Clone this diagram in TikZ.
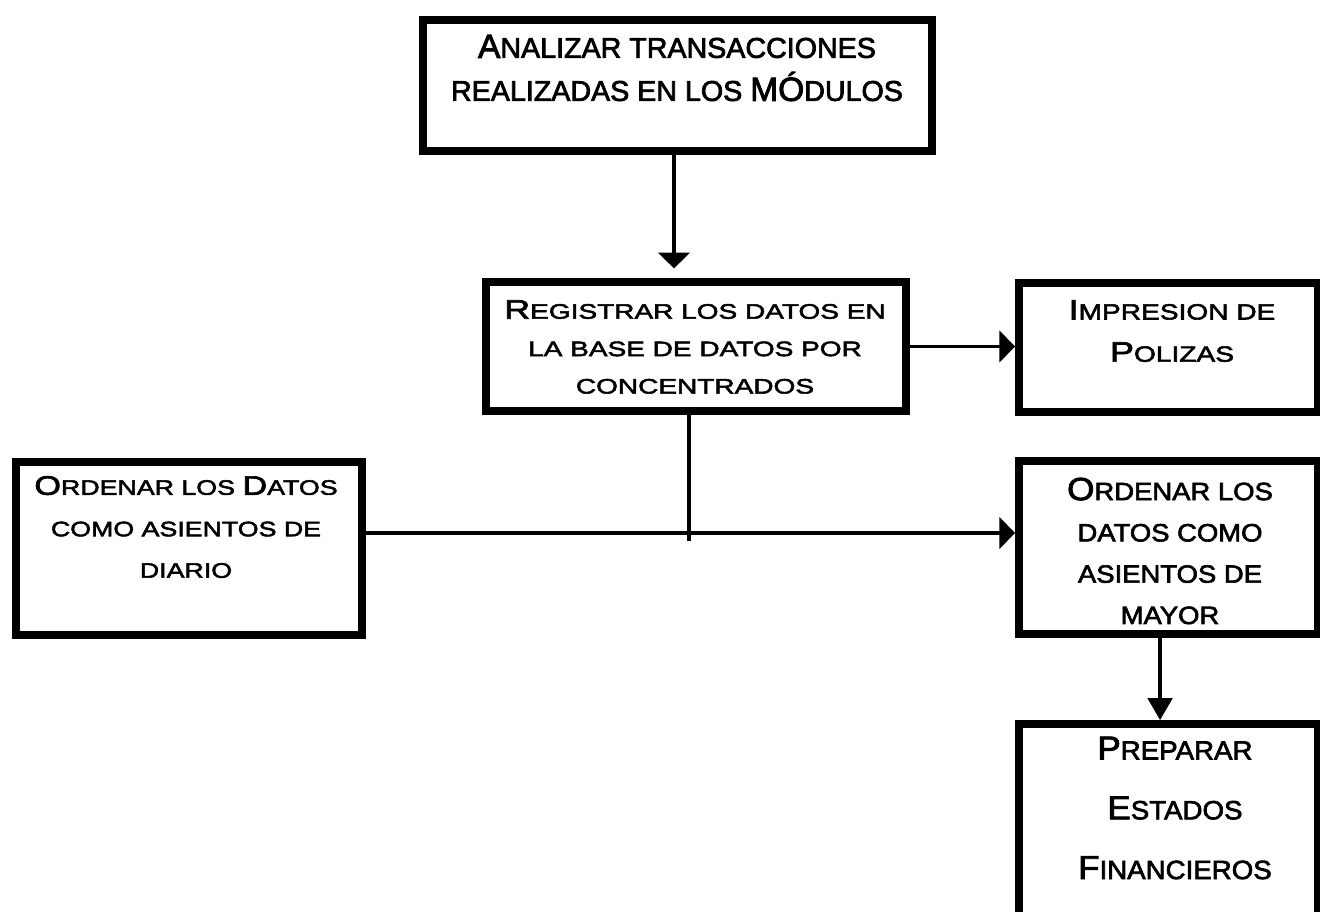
\documentclass[tikz,border=0pt]{standalone}
\usepackage{fontspec}
\setmainfont{Liberation Sans}[FakeBold=2.5]
\newfontfamily\wideD{Liberation Sans}[FakeStretch=1.34, FakeBold=2.5]
\newfontfamily\wideC{Liberation Sans}[FakeStretch=1.28, FakeBold=2.5]
\newfontfamily\wideB{Liberation Sans}[FakeStretch=1.1, FakeBold=2.5]
\newfontfamily\wideA{Liberation Sans}[FakeStretch=1.05, FakeBold=2.5]
\usepackage{graphicx}
\usetikzlibrary{arrows.meta}
\newcommand\bg[2][1.28]{\scalebox{#1}{#2}}

\begin{document}
\begin{tikzpicture}[x=0.02cm, y=-0.02cm,
        box/.style={draw, line width=4.5pt, inner sep=0pt},
        txt/.style={align=center, inner sep=0pt},
        con/.style={line width=1.8pt},
        arr/.style={con, -{Triangle[length=9pt,width=18pt]}}]
        \clip (0,0) rectangle (1320,912);
        \fill[white] (0,0) rectangle (1320,912);
        % boxes
        \node[box, minimum width=10.18cm, minimum height=2.62cm] (analizar) at (677.5,85.5) {};
        \node[box, minimum width=8.4cm, minimum height=2.58cm] (registrar) at (696,346.5) {};
        \node[box, minimum width=5.98cm, minimum height=2.58cm] (impresion) at (1168.5,347.5) {};
        \node[box, minimum width=6.92cm, minimum height=3.46cm] (diario) at (189,548.5) {};
        \node[box, minimum width=5.98cm, minimum height=3.46cm] (mayor) at (1168.5,547.5) {};
        \node[box, minimum width=5.98cm, minimum height=5.52cm] (preparar) at (1168.5,862) {};
        % texts
        \node[txt, font=\fontsize{16.3}{24.5}\selectfont] (analizarT) at (677,68)
            {\bg[1.17]{A}NALIZAR TRANSACCIONES\\REALIZADAS EN LOS \bg[1.17]{M}\bg[1.17]{Ó}DULOS};
        \node[txt, font=\wideD\fontsize{11.9}{21.3}\selectfont] (registrarT) at (695,347)
            {\bg{R}EGISTRAR LOS DATOS EN\\LA BASE DE DATOS POR\\CONCENTRADOS};
        \node[txt, font=\wideC\fontsize{12.5}{24}\selectfont] (impresionT) at (1172,331)
            {\bg{I}MPRESION DE\\\bg{P}OLIZAS};
        \node[txt, font=\wideC\fontsize{11.9}{23.6}\selectfont] (diarioT) at (186,527)
            {\bg{O}RDENAR LOS \bg{D}ATOS\\COMO ASIENTOS DE\\DIARIO};
        \node[txt, font=\wideB\fontsize{14.2}{23.5}\selectfont] (mayorT) at (1170,551)
            {\bg{O}RDENAR LOS\\DATOS COMO\\ASIENTOS DE\\MAYOR};
        \node[txt, font=\wideA\fontsize{15}{34}\selectfont] (prepararT) at (1175,808)
            {\bg[1.26]{P}REPARAR\\\bg[1.26]{E}STADOS\\\bg[1.26]{F}INANCIEROS};
        % arrows
        \coordinate (tee) at (689,541);
        \coordinate (hl) at (689,533);
        \draw[arr, shorten >=5.5pt] ([xshift=-2pt]analizar.south) -- ([xshift=-2pt]analizar.south |- registrar.north);
        \draw[arr] (registrar.east) -- (registrar.east -| impresion.west);
        \draw[con] (registrar.south -| tee) -- (tee);
        \draw[arr] (diario.east |- hl) -- (mayor.west |- hl);
        \draw[con, -{Triangle[length=12.5pt,width=14pt]}] ([xshift=-4.8pt]mayor.south) -- ([xshift=-4.8pt]preparar.north);
    \end{tikzpicture}
\end{document}
